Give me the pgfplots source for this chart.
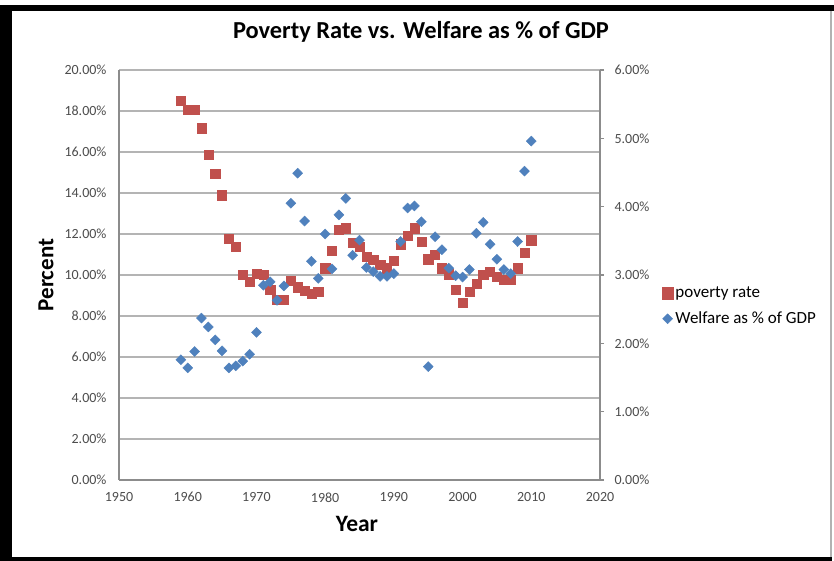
\documentclass[border=0pt]{standalone}
\usepackage{pgfplots}
\pgfplotsset{compat=1.18}
\usepackage{pgfplotstable}
\usepackage{fontspec}
\setmainfont{Carlito}

\definecolor{povred}{HTML}{C0504D}
\definecolor{welblue}{HTML}{4F81BD}
\definecolor{gridgray}{HTML}{B4B4B4}
\definecolor{axgray}{HTML}{8C8C8C}
\definecolor{ticktext}{HTML}{4D4D4D}

% Poverty rate, percent of population
\pgfplotstableread{
year rate
1959 18.50
1960 18.08
1961 18.08
1962 17.16
1963 15.87
1964 14.96
1965 13.89
1966 11.77
1967 11.37
1968 10.00
1969 9.67
1970 10.08
1971 10.00
1972 9.27
1973 8.78
1974 8.78
1975 9.72
1976 9.40
1977 9.23
1978 9.07
1979 9.19
1980 10.33
1981 11.19
1982 12.20
1983 12.28
1984 11.58
1985 11.38
1986 10.90
1987 10.73
1988 10.49
1989 10.33
1990 10.68
1991 11.50
1992 11.92
1993 12.28
1994 11.63
1995 10.77
1996 10.98
1997 10.33
1998 10.04
1999 9.27
2000 8.65
2001 9.19
2002 9.56
2003 10.00
2004 10.16
2005 9.92
2006 9.76
2007 9.79
2008 10.33
2009 11.09
2010 11.70
}\povertytable

% Welfare spending, percent of GDP
\pgfplotstableread{
year share
1959 1.76
1960 1.64
1961 1.88
1962 2.37
1963 2.24
1964 2.05
1965 1.89
1966 1.64
1967 1.67
1968 1.74
1969 1.84
1970 2.16
1971 2.85
1972 2.90
1973 2.63
1974 2.84
1975 4.05
1976 4.49
1977 3.79
1978 3.20
1979 2.95
1980 3.60
1981 3.09
1982 3.88
1983 4.12
1984 3.29
1985 3.51
1986 3.11
1987 3.05
1988 2.98
1989 2.98
1990 3.02
1991 3.49
1992 3.98
1993 4.01
1994 3.78
1995 1.66
1996 3.56
1997 3.37
1998 3.10
1999 2.99
2000 2.97
2001 3.08
2002 3.61
2003 3.77
2004 3.45
2005 3.23
2006 3.08
2007 3.02
2008 3.49
2009 4.52
2010 4.96
}\welfaretable

\pgfplotsset{
  commonaxis/.style={
    scale only axis, width=481pt, height=410pt,
    at={(119pt,81pt)}, anchor=south west,
    xmin=1950, xmax=2020,
    /pgf/number format/assume math mode=true,
    tick label style={font=\fontsize{14}{16}\selectfont, text=ticktext},
    axis line style={-, draw=axgray, line width=1.2pt},
    yticklabel={\pgfmathprintnumber[fixed,fixed zerofill,precision=2]{\tick}\%},
  },
}

\begin{document}
\begin{tikzpicture}
% page and frame
\fill[white] (0pt,0pt) rectangle (834pt,561pt);
\fill[black] (0pt,550pt) rectangle (834pt,556pt);
\fill[black] (0pt,0pt) rectangle (12pt,556pt);
\fill[black] (0pt,0pt) rectangle (832pt,4pt);
\draw[black!30, line width=1.5pt] (831pt,4pt) -- (831pt,550pt);

% left axis: poverty rate
\begin{axis}[commonaxis,
  ymin=0, ymax=20,
  xtick={1950,1960,...,2020}, ytick={0,2,...,20},
  xticklabel style={/pgf/number format/1000 sep={}, yshift=-9pt},
  yticklabel style={xshift=-9pt},
  axis x line*=bottom, axis y line*=left,
  major tick length=0pt,
  ymajorgrids, grid style={draw=gridgray, line width=1.2pt},
]
\addplot[only marks, mark=square*, mark size=4.6pt,
  mark options={draw=povred, fill=povred}] table[x=year, y=rate] {\povertytable};
\end{axis}

% right axis: welfare share of GDP
\begin{axis}[commonaxis,
  ymin=0, ymax=6, ytick={0,1,...,6},
  axis y line*=right, axis x line=none,
  tick align=outside, major tick length=4pt,
  ytick style={draw=axgray, line width=1.2pt},
  yticklabel style={xshift=7pt},
  legend style={at={(1.122,0.424)}, anchor=west, draw=none, fill=none,
    font=\fontsize{17}{20}\selectfont, row sep=9pt},
  legend cell align=left,
]
\addlegendimage{only marks, mark=square*, mark size=5.8pt, mark options={draw=povred, fill=povred}}
\addlegendentry{poverty rate}
\addlegendimage{only marks, mark=diamond*, mark size=5pt, mark options={draw=welblue, fill=welblue, xscale=1.33}}
\addlegendentry{Welfare as \% of GDP}
\addplot[forget plot, only marks, mark=diamond*, mark size=5pt,
  mark options={draw=welblue, fill=welblue, xscale=1.33}] table[x=year, y=share] {\welfaretable};
\end{axis}

% titles
\node[anchor=base, font=\bfseries\fontsize{24.4}{28}\selectfont] at (421pt,522pt)
  {Poverty Rate vs. Welfare as \% of GDP};
\node[rotate=90, font=\bfseries\fontsize{23}{26}\selectfont] at (46pt,286pt) {Percent};
\node[font=\bfseries\fontsize{23.5}{26}\selectfont] at (357pt,37pt) {Year};
\end{tikzpicture}
\end{document}
